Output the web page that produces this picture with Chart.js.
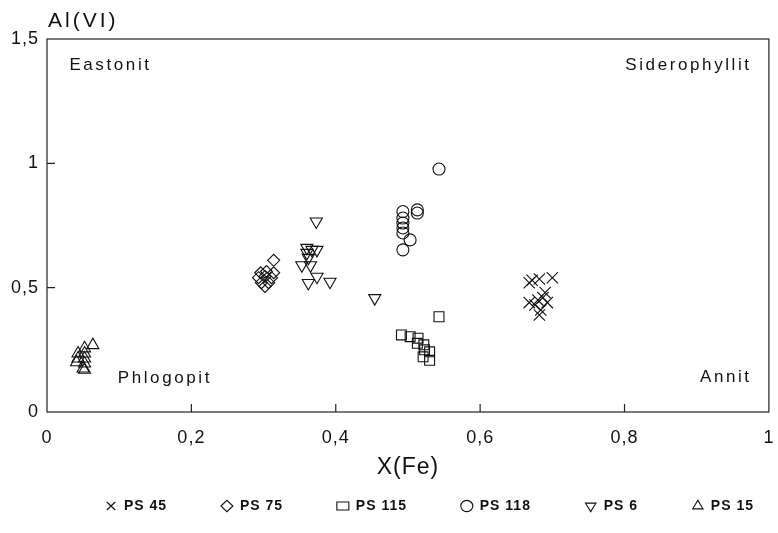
<!DOCTYPE html>
<html>
<head>
<meta charset="utf-8">
<script src="https://cdn.jsdelivr.net/npm/chart.js@4.4.1/dist/chart.umd.min.js"></script>
<style>
  html, body { margin: 0; padding: 0; background: #fff; overflow: hidden; }
  #wrap { width: 778px; height: 533px; position: relative; }
  canvas { display: block; }
</style>
</head>
<body>
<div id="wrap"><canvas id="myChart"></canvas></div>
<script>
// series values
let ps45X = [0.668, 0.672, 0.682, 0.700, 0.690, 0.668, 0.680, 0.687, 0.693, 0.676, 0.684, 0.682];
let ps45Y = [0.52, 0.53, 0.535, 0.54, 0.48, 0.44, 0.45, 0.46, 0.44, 0.43, 0.41, 0.39];

let ps75X = [0.314, 0.296, 0.304, 0.314, 0.293, 0.302, 0.311, 0.297, 0.307, 0.302];
let ps75Y = [0.61, 0.56, 0.565, 0.56, 0.54, 0.545, 0.54, 0.52, 0.52, 0.505];

let ps115X = [0.543, 0.491, 0.503, 0.514, 0.513, 0.522, 0.523, 0.521, 0.530, 0.530];
let ps115Y = [0.383, 0.31, 0.303, 0.297, 0.276, 0.27, 0.25, 0.222, 0.242, 0.208];

let ps118X = [0.543, 0.513, 0.513, 0.493, 0.493, 0.493, 0.493, 0.493, 0.503, 0.493];
let ps118Y = [0.977, 0.813, 0.80, 0.806, 0.78, 0.76, 0.74, 0.72, 0.692, 0.652];

let ps6X = [0.373, 0.367, 0.374, 0.36, 0.36, 0.362, 0.353, 0.365, 0.374, 0.362, 0.392, 0.454];
let ps6Y = [0.766, 0.652, 0.652, 0.66, 0.64, 0.62, 0.59, 0.59, 0.544, 0.519, 0.524, 0.458];

let ps15X = [0.0635, 0.052, 0.043, 0.052, 0.043, 0.052, 0.041, 0.052, 0.05, 0.052];
let ps15Y = [0.269, 0.256, 0.235, 0.235, 0.215, 0.215, 0.20, 0.195, 0.175, 0.17];

let seriesNames = ["PS 45", "PS 75", "PS 115", "PS 118", "PS 6", "PS 15"];

let xTicks = [0, 0.2, 0.4, 0.6, 0.8, 1];
let xTickLabels = ["0", "0,2", "0,4", "0,6", "0,8", "1"];
let yTicks = [0, 0.5, 1, 1.5];
let yTickLabels = ["0", "0,5", "1", "1,5"];

let fieldNames = ["Eastonit", "Siderophyllit", "Phlogopit", "Annit"];
let fieldX = [0.031, 0.972, 0.098, 0.972];
let fieldY = [1.394, 1.394, 0.137, 0.14];
let fieldAlign = ["left", "right", "left", "right"];

const FONT = "'Liberation Sans', Arial, sans-serif";

function pts(xs, ys) {
  return xs.map((x, i) => ({ x: x, y: ys[i] }));
}

function makeSet(label, xs, ys, style, radius, rotation) {
  return {
    label: label,
    data: pts(xs, ys),
    pointStyle: style,
    pointRadius: radius,
    pointHoverRadius: radius,
    pointRotation: rotation || 0,
    pointBorderColor: "#111",
    pointBackgroundColor: "rgba(0,0,0,0)",
    borderColor: "#111",
    backgroundColor: "rgba(0,0,0,0)",
    pointBorderWidth: 1.1,
    showLine: false,
  };
}

// the printed figure has slightly spaced lettering
let spacingPlugin = {
  id: "spacing",
  beforeDraw(chart) { chart.ctx.letterSpacing = "1px"; },
  afterDraw(chart) { chart.ctx.letterSpacing = "0px"; },
};

// frame, inward tick marks and the field names
let decorPlugin = {
  id: "decor",
  afterDraw(chart) {
    let c = chart.ctx;
    let a = chart.chartArea;
    let xs = chart.scales.x;
    let ys = chart.scales.y;
    c.save();
    c.strokeStyle = "#222";
    c.lineWidth = 1.2;
    c.strokeRect(a.left, a.top, a.right - a.left, a.bottom - a.top);
    c.beginPath();
    xTicks.forEach((v) => {
      if (v <= 0 || v >= 1) return;
      let px = xs.getPixelForValue(v);
      c.moveTo(px, a.bottom);
      c.lineTo(px, a.bottom - 8);
    });
    yTicks.forEach((v) => {
      if (v <= 0 || v >= 1.5) return;
      let py = ys.getPixelForValue(v);
      c.moveTo(a.left, py);
      c.lineTo(a.left + 8, py);
    });
    c.stroke();

    c.fillStyle = "#111";
    c.textBaseline = "middle";
    c.font = "17px " + FONT;
    c.letterSpacing = "2.6px";
    fieldNames.forEach((t, i) => {
      c.textAlign = fieldAlign[i];
      let px = xs.getPixelForValue(fieldX[i]);
      if (fieldAlign[i] === "right") px += 3;
      c.fillText(t, px, ys.getPixelForValue(fieldY[i]));
    });

    c.font = "21px " + FONT;
    c.letterSpacing = "3px";
    c.textAlign = "left";
    c.textBaseline = "alphabetic";
    c.fillText("Al(VI)", a.left + 1, a.top - 12);
    c.restore();
  },
};

let ctx = document.getElementById("myChart");

let graphData = {
  type: "scatter",
  data: {
    datasets: [
      makeSet(seriesNames[0], ps45X, ps45Y, "crossRot", 8),
      makeSet(seriesNames[1], ps75X, ps75Y, "rectRot", 6),
      makeSet(seriesNames[2], ps115X, ps115Y, "rect", 7),
      makeSet(seriesNames[3], ps118X, ps118Y, "circle", 6),
      makeSet(seriesNames[4], ps6X, ps6Y, "triangle", 7, 180),
      makeSet(seriesNames[5], ps15X, ps15Y, "triangle", 7),
    ],
  },
  options: {
    responsive: true,
    maintainAspectRatio: false,
    animation: false,
    layout: { padding: { top: 39, right: 5, left: 0, bottom: 10 } },
    scales: {
      x: {
        type: "linear",
        min: 0,
        max: 1,
        grid: { display: false, drawTicks: false },
        border: { display: false },
        afterBuildTicks: (s) => { s.ticks = xTicks.map((v) => ({ value: v })); },
        afterFit: (s) => { s.height = 87; s.paddingLeft = 0; s.paddingRight = 0; },
        ticks: {
          color: "#111",
          padding: 15,
          maxRotation: 0,
          font: { family: FONT, size: 18 },
          callback: (v) => xTickLabels[xTicks.indexOf(v)],
        },
        title: {
          display: true,
          text: "X(Fe)",
          color: "#111",
          padding: { top: 6, bottom: 18 },
          font: { family: FONT, size: 23 },
        },
      },
      y: {
        type: "linear",
        min: 0,
        max: 1.5,
        grid: { display: false, drawTicks: false },
        border: { display: false },
        afterBuildTicks: (s) => { s.ticks = yTicks.map((v) => ({ value: v })); },
        afterFit: (s) => { s.width = 47; s.paddingTop = 0; s.paddingBottom = 0; },
        ticks: {
          color: "#111",
          padding: 8,
          font: { family: FONT, size: 18 },
          callback: (v) => yTickLabels[yTicks.indexOf(v)],
        },
      },
    },
    plugins: {
      tooltip: { enabled: false },
      legend: {
        position: "bottom",
        fullSize: true,
        labels: {
          usePointStyle: true,
          pointStyleWidth: 12,
          boxHeight: 8,
          padding: 0,
          color: "#111",
          font: { family: FONT, size: 14, weight: "bold" },
          generateLabels: (chart) => {
            let items = Chart.defaults.plugins.legend.labels.generateLabels(chart);
            items.forEach((it, i) => {
              if (i < items.length - 1) it.text = it.text + " ".repeat(11);
            });
            return items;
          },
        },
      },
    },
  },
  plugins: [spacingPlugin, decorPlugin],
};

let myChart = new Chart(ctx, graphData);
</script>
</body>
</html>
